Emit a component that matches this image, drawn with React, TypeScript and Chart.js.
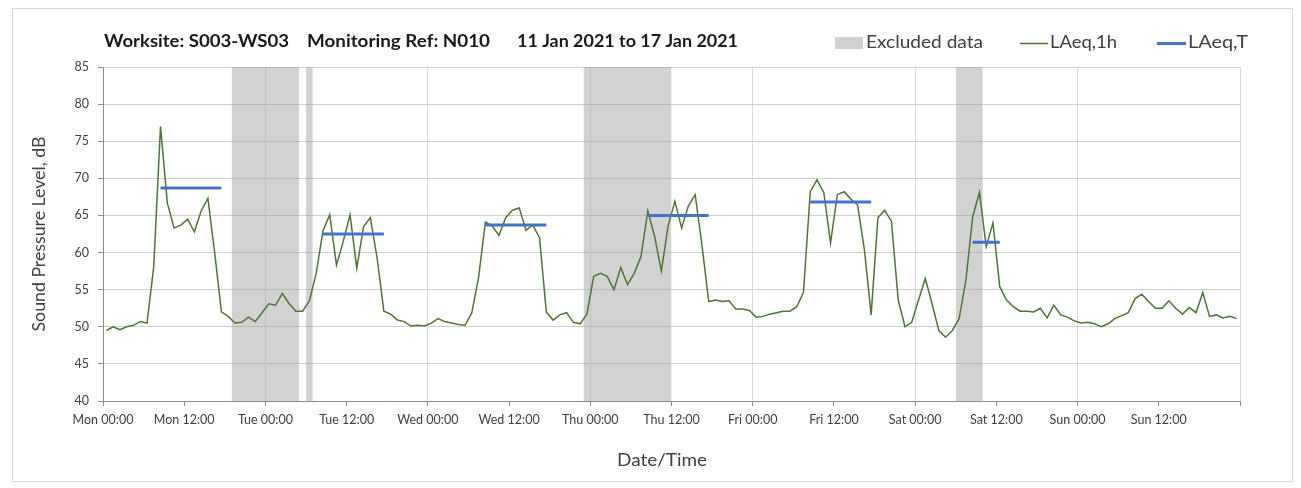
import React, { useEffect, useRef } from 'react';
import { Chart, registerables } from 'chart.js';
Chart.register(...registerables);

// ---- data ----
const dayNames = ['Mon', 'Tue', 'Wed', 'Thu', 'Fri', 'Sat', 'Sun'];
const tickTimes = ['00:00', '12:00'];
const titleParts = ['Worksite: S003-WS03', 'Monitoring Ref: N010', '11 Jan 2021 to 17 Jan 2021'];
const legendLabels = ['Excluded data', 'LAeq,1h', 'LAeq,T'];
const yAxisTitle = 'Sound Pressure Level, dB';
const xAxisTitle = 'Date/Time';

// hourly LAeq,1h values (hour 0 = Mon 00:00)
const laeq1h = [
  49.5, 50.0, 49.6, 50.0, 50.2, 50.7, 50.5, 58.1, 77.0, 66.7, 63.3, 63.7, 64.5, 62.8, 65.6, 67.3, 60.0, 52.0, 51.4, 50.5, 50.6, 51.3, 50.7, 51.9,
  53.1, 52.9, 54.5, 53.1, 52.1, 52.1, 53.5, 57.2, 62.9, 65.1, 58.3, 61.5, 65.1, 57.9, 63.5, 64.7, 59.3, 52.1, 51.7, 50.9, 50.7, 50.1, 50.2, 50.1,
  50.5, 51.1, 50.7, 50.5, 50.3, 50.2, 51.9, 56.7, 64.1, 63.6, 62.3, 64.7, 65.7, 66.0, 63.0, 63.7, 62.0, 52.0, 50.9, 51.6, 51.9, 50.6, 50.4, 51.7,
  56.8, 57.2, 56.8, 55.0, 58.0, 55.7, 57.2, 59.5, 65.6, 62.2, 57.5, 63.6, 66.9, 63.3, 66.3, 67.8, 61.0, 53.4, 53.6, 53.4, 53.5, 52.4, 52.4, 52.2,
  51.3, 51.4, 51.7, 51.9, 52.1, 52.1, 52.7, 54.6, 68.2, 69.8, 68.1, 61.3, 67.8, 68.2, 67.2, 66.4, 60.4, 51.6, 64.7, 65.7, 64.2, 53.6, 50.0, 50.6,
  53.6, 56.5, 53.1, 49.5, 48.6, 49.5, 51.1, 56.3, 64.8, 68.1, 60.8, 64.0, 55.4, 53.6, 52.7, 52.1, 52.1, 52.0, 52.5, 51.2, 52.9, 51.6, 51.3, 50.8,
  50.5, 50.6, 50.4, 50.0, 50.4, 51.1, 51.5, 51.9, 53.8, 54.4, 53.4, 52.5, 52.5, 53.5, 52.5, 51.7, 52.6, 51.9, 54.6, 51.4, 51.6, 51.2, 51.4, 51.1,
];

// LAeq,T daytime periods (hour index ranges)
const laeqTStart = [8, 32, 56, 80, 104, 128];
const laeqTEnd = [17, 41, 65, 89, 113, 132];
const laeqTValues = [68.7, 62.5, 63.7, 65.0, 66.8, 61.4];

// excluded data periods (hours)
const excludedStart = [19, 30, 71, 126];
const excludedEnd = [29, 31, 84, 130];

const yMin = 40;
const yMax = 85;
const yStep = 5;
const xStep = 12;
const totalHours = 168;

const FONT = 'Lato, "Open Sans", sans-serif';
const GREEN = '#4f7536';
const BLUE = '#4472c4';
const BAND = 'rgba(160,160,160,0.47)';

// draw text stretched horizontally to a target width (left-aligned at x, or centred)
function fillFit(ctx: CanvasRenderingContext2D, text: string, x: number, y: number, width: number, center = false) {
  const w = ctx.measureText(text).width;
  const s = w > 0 ? width / w : 1;
  ctx.save();
  ctx.translate(center ? x - width / 2 : x, y);
  ctx.scale(s, 1);
  ctx.textAlign = 'left';
  ctx.fillText(text, 0, 0);
  ctx.restore();
}

const overlayPlugin = {
  id: 'overlay',
  afterDraw(chart: any) {
    const ctx = chart.ctx as CanvasRenderingContext2D;
    const area = chart.chartArea;
    ctx.save();
    // outer border
    ctx.strokeStyle = '#d9d9d9';
    ctx.lineWidth = 1;
    ctx.strokeRect(12.5, 8.5, 1280, 473);

    // title
    ctx.fillStyle = '#1a1a1a';
    ctx.font = `bold 16.5px ${FONT}`;
    ctx.textBaseline = 'middle';
    const titleX = [104, 307, 517];
    const titleW = [185, 183, 221];
    titleParts.forEach((t, i) => fillFit(ctx, t, titleX[i], 42, titleW[i]));

    // legend
    ctx.font = `16.5px ${FONT}`;
    ctx.fillStyle = '#d0d0d0';
    ctx.fillRect(835, 37, 28, 12);
    ctx.fillStyle = '#404040';
    fillFit(ctx, legendLabels[0], 866, 43, 117);
    ctx.strokeStyle = GREEN;
    ctx.lineWidth = 1.5;
    ctx.beginPath();
    ctx.moveTo(1020, 43.5);
    ctx.lineTo(1048, 43.5);
    ctx.stroke();
    fillFit(ctx, legendLabels[1], 1050, 43, 67);
    ctx.strokeStyle = BLUE;
    ctx.lineWidth = 3;
    ctx.beginPath();
    ctx.moveTo(1157, 43.5);
    ctx.lineTo(1186, 43.5);
    ctx.stroke();
    fillFit(ctx, legendLabels[2], 1188, 43, 60);

    // axis titles
    ctx.font = `17px ${FONT}`;
    ctx.fillStyle = '#404040';
    fillFit(ctx, xAxisTitle, 662, 461, 90, true);
    ctx.translate(40, (area.top + area.bottom) / 2);
    ctx.rotate(-Math.PI / 2);
    fillFit(ctx, yAxisTitle, 0, 0, 195, true);
    ctx.restore();
  },
};

export default function App() {
  const ref = useRef<HTMLCanvasElement>(null);
  useEffect(() => {
    document.body.style.margin = '0';
    const canvas = ref.current!;

    const greenData = laeq1h.map((v, i) => ({ x: i + 0.5, y: v }));
    const blueData: any[] = [];
    laeqTValues.forEach((v, i) => {
      blueData.push({ x: laeqTStart[i] + 0.5, y: v });
      blueData.push({ x: laeqTEnd[i] + 0.5, y: v });
      blueData.push({ x: laeqTEnd[i] + 0.75, y: null });
    });
    const bandData: any[] = [];
    excludedStart.forEach((s, i) => {
      bandData.push({ x: s, y: yMax });
      bandData.push({ x: excludedEnd[i], y: yMax });
      bandData.push({ x: excludedEnd[i] + 0.1, y: null });
    });

    const chart = new Chart(canvas, {
      type: 'line',
      data: {
        datasets: [
          {
            label: legendLabels[2],
            data: blueData,
            borderColor: BLUE,
            borderWidth: 3,
            pointRadius: 0,
            spanGaps: false,
            fill: false,
            order: 0,
          },
          {
            label: legendLabels[1],
            data: greenData,
            borderColor: GREEN,
            borderWidth: 1.5,
            pointRadius: 0,
            tension: 0,
            fill: false,
            order: 1,
          },
          {
            label: legendLabels[0],
            data: bandData,
            borderColor: 'transparent',
            borderWidth: 0,
            backgroundColor: BAND,
            pointRadius: 0,
            spanGaps: false,
            fill: 'start',
            order: 2,
          },
        ],
      },
      options: {
        responsive: false,
        animation: false,
        layout: { padding: { left: 0, top: 67, right: 61, bottom: 0 } },
        plugins: {
          legend: { display: false },
          title: { display: false },
          tooltip: { enabled: false },
        },
        scales: {
          x: {
            type: 'linear',
            min: 0,
            max: totalHours,
            afterFit: (scale: any) => {
              scale.height = 87;
            },
            ticks: {
              stepSize: xStep,
              autoSkip: false,
              maxRotation: 0,
              padding: 6,
              color: '#404040',
              font: { family: FONT, size: 12.5 },
              callback: (value: any) => {
                const v = Number(value);
                if (v >= totalHours) return '';
                const day = dayNames[Math.floor(v / 24)];
                return `${day} ${tickTimes[(v % 24) / 12]}`;
              },
            },
            grid: {
              color: (c: any) => (c.tick && c.tick.value % 24 === 0 ? '#dadada' : 'rgba(0,0,0,0)'),
              tickColor: '#8c8c8c',
              tickLength: 5,
              lineWidth: 1,
            },
            border: { color: '#8c8c8c', width: 1 },
          },
          y: {
            min: yMin,
            max: yMax,
            afterFit: (scale: any) => {
              scale.width = 103;
            },
            ticks: {
              stepSize: yStep,
              padding: 9,
              color: '#404040',
              font: { family: FONT, size: 12.5 },
            },
            grid: {
              color: '#cfcfcf',
              tickColor: '#8c8c8c',
              tickLength: 5,
              lineWidth: 1,
            },
            border: { color: '#8c8c8c', width: 1 },
          },
        },
      },
      plugins: [overlayPlugin],
    });
    return () => chart.destroy();
  }, []);
  return (
    <div style={{ width: 1301, height: 488 }}>
      <canvas ref={ref} width={1301} height={488} style={{ display: 'block' }} />
    </div>
  );
}
